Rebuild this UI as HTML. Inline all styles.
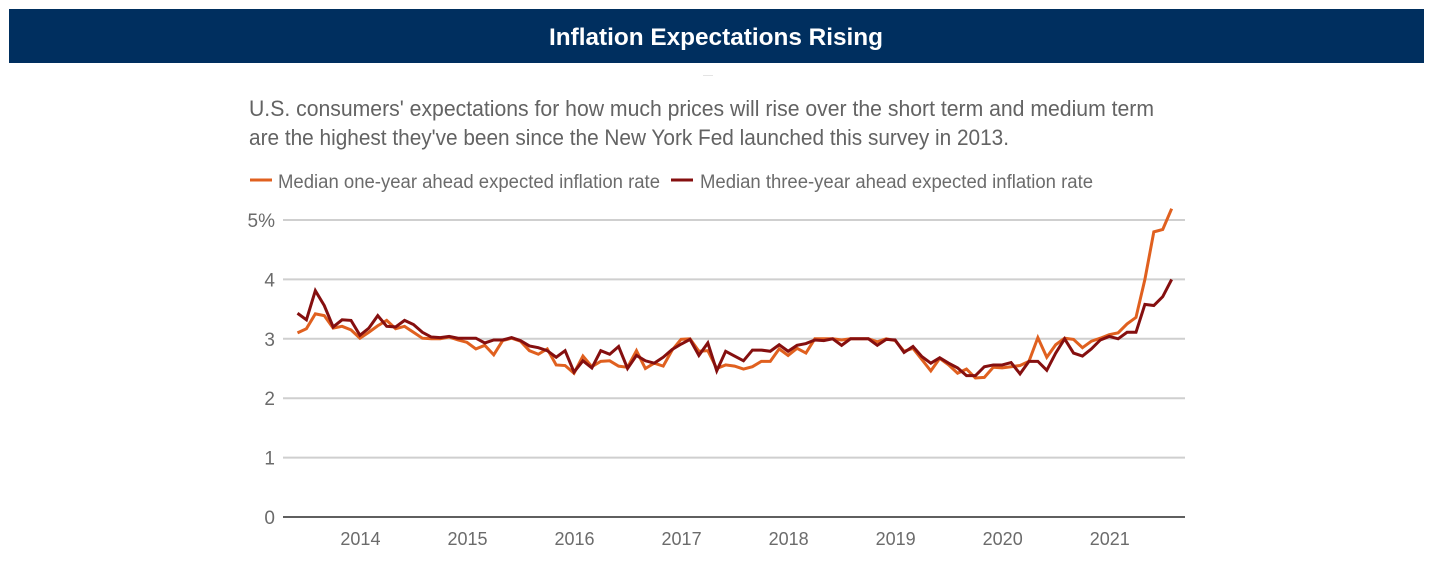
<!DOCTYPE html>
<html>
<head>
<meta charset="utf-8">
<title>Inflation Expectations Rising</title>
<style>
html,body{margin:0;padding:0;background:#fff;width:1433px;height:575px;overflow:hidden}
svg{display:block}
text{font-family:"Liberation Sans",sans-serif}
</style>
</head>
<body>
<svg id="chart" width="1433" height="575" viewBox="0 0 1433 575">
  <rect x="9" y="9" width="1415" height="54" fill="#002f5f"/>
  <text x="549" y="45" font-size="24" font-weight="bold" fill="#fff" textLength="334" lengthAdjust="spacingAndGlyphs">Inflation Expectations Rising</text>
  <line x1="703" x2="713" y1="75.5" y2="75.5" stroke="#e4e4e4" stroke-width="1"/>
  <text x="249" y="116" font-size="22" fill="#636363" textLength="905" lengthAdjust="spacingAndGlyphs">U.S. consumers' expectations for how much prices will rise over the short term and medium term</text>
  <text x="249" y="145" font-size="22" fill="#636363" textLength="760" lengthAdjust="spacingAndGlyphs">are the highest they've been since the New York Fed launched this survey in 2013.</text>
  <line x1="250" x2="272" y1="180" y2="180" stroke="#e0601f" stroke-width="3"/>
  <text x="278" y="188" font-size="19" fill="#6b6b6b" textLength="382" lengthAdjust="spacingAndGlyphs">Median one-year ahead expected inflation rate</text>
  <line x1="671" x2="693" y1="180" y2="180" stroke="#850f0f" stroke-width="3"/>
  <text x="700" y="188" font-size="19" fill="#6b6b6b" textLength="393" lengthAdjust="spacingAndGlyphs">Median three-year ahead expected inflation rate</text>
  <g id="axes"></g>
  <g id="series"></g>
</svg>
<script>
var yTicks = [0, 1, 2, 3, 4, 5];
var yTickLabels = ["0", "1", "2", "3", "4", "5%"];
var xTickYears = [2014, 2015, 2016, 2017, 2018, 2019, 2020, 2021];
var startYear = 2013;
var startMonth = 5;
var oneYear = [3.1,3.17,3.42,3.39,3.18,3.21,3.15,3.01,3.11,3.22,3.31,3.17,3.21,3.11,3.01,3.0,3.0,3.03,2.98,2.94,2.83,2.89,2.73,2.97,3.01,2.96,2.8,2.74,2.83,2.56,2.55,2.42,2.71,2.53,2.62,2.63,2.54,2.52,2.8,2.5,2.59,2.54,2.81,2.99,3.0,2.79,2.8,2.5,2.56,2.54,2.49,2.53,2.62,2.62,2.83,2.72,2.84,2.76,3.0,3.0,3.0,2.98,3.0,3.0,3.0,2.95,3.0,2.97,2.79,2.84,2.65,2.46,2.67,2.56,2.42,2.49,2.34,2.35,2.52,2.51,2.53,2.55,2.62,3.02,2.69,2.9,3.01,2.99,2.85,2.96,3.01,3.07,3.1,3.25,3.36,4.0,4.8,4.84,5.19];
var threeYear = [3.43,3.32,3.81,3.56,3.2,3.32,3.31,3.06,3.18,3.39,3.21,3.2,3.31,3.24,3.11,3.03,3.02,3.04,3.01,3.01,3.01,2.93,2.98,2.98,3.02,2.97,2.88,2.85,2.8,2.69,2.8,2.44,2.63,2.51,2.8,2.74,2.87,2.5,2.72,2.63,2.59,2.69,2.82,2.91,2.99,2.72,2.93,2.46,2.79,2.71,2.63,2.81,2.81,2.79,2.9,2.79,2.89,2.92,2.98,2.97,3.0,2.89,3.0,3.0,3.0,2.89,2.99,2.98,2.77,2.87,2.7,2.59,2.68,2.59,2.51,2.38,2.38,2.53,2.56,2.56,2.6,2.41,2.62,2.62,2.47,2.76,3.0,2.76,2.71,2.83,2.98,3.04,3.0,3.11,3.11,3.58,3.56,3.71,4.0];

var NS = 'http://www.w3.org/2000/svg';
function yScale(v) { return 517 - v * 59.4; }
function xScale(monthIndex) { return 297.5 + monthIndex * 8.92; }
function monthsFromStart(year) { return (year - startYear) * 12 - startMonth; }

var axes = document.getElementById('axes');
var seriesGroup = document.getElementById('series');

yTicks.forEach(function (t, i) {
  var line = document.createElementNS(NS, 'line');
  line.setAttribute('x1', 283);
  line.setAttribute('x2', 1185);
  line.setAttribute('y1', yScale(t));
  line.setAttribute('y2', yScale(t));
  line.setAttribute('stroke', t === 0 ? '#5f5f5f' : '#cfcfcf');
  line.setAttribute('stroke-width', 2);
  
  
  axes.appendChild(line);

  var label = document.createElementNS(NS, 'text');
  label.setAttribute('x', 275);
  label.setAttribute('y', yScale(t) + 7);
  label.setAttribute('text-anchor', 'end');
  label.setAttribute('font-size', 19);
  label.setAttribute('fill', '#6b6b6b');
  
  
  label.textContent = yTickLabels[i];
  axes.appendChild(label);
});

xTickYears.forEach(function (yr) {
  var label = document.createElementNS(NS, 'text');
  label.setAttribute('x', xScale(monthsFromStart(yr)) + 0.5);
  label.setAttribute('y', 545);
  label.setAttribute('text-anchor', 'middle');
  label.setAttribute('font-size', 18);
  label.setAttribute('fill', '#6b6b6b');
  
  
  label.textContent = yr;
  axes.appendChild(label);
});

function pointsFor(values) {
  return values.map(function (v, i) {
    return xScale(i).toFixed(2) + ',' + yScale(v).toFixed(2);
  }).join(' ');
}

var orangeLine = document.createElementNS(NS, 'polyline');
orangeLine.setAttribute('points', pointsFor(oneYear));
orangeLine.setAttribute('fill', 'none');
orangeLine.setAttribute('stroke', '#e0601f');
orangeLine.setAttribute('stroke-width', 3);
orangeLine.setAttribute('stroke-linejoin', 'miter');


seriesGroup.appendChild(orangeLine);

var darkLine = document.createElementNS(NS, 'polyline');
darkLine.setAttribute('points', pointsFor(threeYear));
darkLine.setAttribute('fill', 'none');
darkLine.setAttribute('stroke', '#850f0f');
darkLine.setAttribute('stroke-width', 3);
darkLine.setAttribute('stroke-linejoin', 'miter');


seriesGroup.appendChild(darkLine);
</script>
</body>
</html>
